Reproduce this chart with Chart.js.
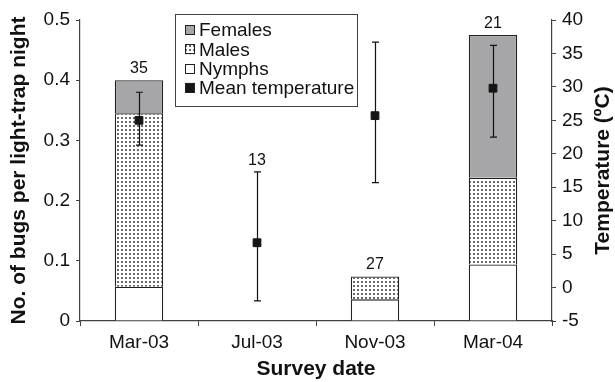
<!DOCTYPE html>
<html>
<head>
<meta charset="utf-8">
<script src="https://cdn.jsdelivr.net/npm/chart.js@4"></script>
<style>
  html, body { margin: 0; padding: 0; background: #fff; }
  #wrap { width: 615px; height: 382px; }
</style>
</head>
<body>
<div id="wrap"><canvas id="myChart" width="615" height="382"></canvas></div>
<script>
// survey data
const surveyDates = ['Mar-03', 'Jul-03', 'Nov-03', 'Mar-04'];
const nymphs  = [0.057, 0, 0.036, 0.094];
const males   = [0.288, 0, 0.038, 0.144];
const females = [0.055, 0, 0, 0.237];
const sampleSize = ['35', '13', '27', '21'];
const meanTemp = [25.0, 6.7, 25.7, 29.8];
const tempHigh = [29.2, 17.3, 36.7, 36.2];
const tempLow  = [21.3, -2.0, 15.7, 22.5];

const FONT = "'Liberation Sans', Arial, sans-serif";
const AXIS_COLOR = '#404040';
const FEMALE_GREY = '#a6a6a8';

// dotted fill for males
function dotPattern() {
  const c = document.createElement('canvas');
  c.width = 4; c.height = 4;
  const g = c.getContext('2d');
  g.fillStyle = '#fff';
  g.fillRect(0, 0, 4, 4);
  g.fillStyle = '#6a6a6a';
  g.fillRect(1, 1, 2, 2);
  return g.createPattern(c, 'repeat');
}

const ctx = document.getElementById('myChart').getContext('2d');
const maleFill = dotPattern();

const errorBars = {
  id: 'errorBars',
  beforeDatasetDraw(chart, args) {
    if (args.meta.type !== 'line') return;
    const x = chart.scales.x, y1 = chart.scales.y1;
    const c = chart.ctx;
    c.save();
    c.strokeStyle = '#111';
    c.lineWidth = 1.2;
    surveyDates.forEach((d, i) => {
      const px = Math.round(x.getPixelForValue(i)) + 0.5;
      const top = y1.getPixelForValue(tempHigh[i]);
      const bot = y1.getPixelForValue(tempLow[i]);
      c.beginPath();
      c.moveTo(px, top); c.lineTo(px, bot);
      c.moveTo(px - 3.5, top); c.lineTo(px + 3.5, top);
      c.moveTo(px - 3.5, bot); c.lineTo(px + 3.5, bot);
      c.stroke();
    });
    c.restore();
  }
};

const labelsAndLegend = {
  id: 'labelsAndLegend',
  afterDraw(chart) {
    const c = chart.ctx;
    const x = chart.scales.x, y = chart.scales.y, y1 = chart.scales.y1;
    c.save();
    // sample sizes above each column
    c.font = '16px ' + FONT;
    c.fillStyle = '#111';
    c.textAlign = 'center';
    c.textBaseline = 'alphabetic';
    surveyDates.forEach((d, i) => {
      const total = nymphs[i] + males[i] + females[i];
      const top = total > 0 ? y.getPixelForValue(total) : y1.getPixelForValue(tempHigh[i]);
      c.fillText(sampleSize[i], x.getPixelForValue(i), top - 7);
    });

    // right axis title, reading bottom to top
    c.save();
    c.translate(603, (y1.top + y1.bottom) / 2);
    c.rotate(-Math.PI / 2);
    c.font = 'bold 21px ' + FONT;
    c.textBaseline = 'middle';
    c.fillText('Temperature (ºC)', 0, 0);
    c.restore();

    // legend box
    const lx = 175.5, ly = 14.5, lw = 182, lh = 92;
    c.fillStyle = '#fff';
    c.fillRect(lx, ly, lw, lh);
    c.strokeStyle = AXIS_COLOR;
    c.lineWidth = 1;
    c.strokeRect(lx, ly, lw, lh);
    const items = [
      { text: 'Females', fill: FEMALE_GREY },
      { text: 'Males', fill: maleFill },
      { text: 'Nymphs', fill: '#fff' },
      { text: 'Mean temperature', fill: '#151515' }
    ];
    c.font = '19px ' + FONT;
    c.textAlign = 'left';
    c.textBaseline = 'middle';
    items.forEach((it, k) => {
      const cy = 30 + k * 19.3;
      c.fillStyle = it.fill;
      c.fillRect(185, cy - 5, 10, 10);
      c.strokeStyle = '#222';
      c.strokeRect(185.5, Math.round(cy - 5) + 0.5, 9, 9);
      c.fillStyle = '#111';
      c.fillText(it.text, 199, cy + 1);
    });
    c.restore();
  }
};

new Chart(ctx, {
  data: {
    labels: surveyDates,
    datasets: [
      {
        type: 'line',
        label: 'Mean temperature',
        data: meanTemp,
        yAxisID: 'y1',
        showLine: false,
        pointStyle: 'rect',
        pointRadius: 5.5,
        pointBackgroundColor: '#151515',
        pointBorderColor: '#151515',
        order: -1
      },
      {
        type: 'bar',
        label: 'Nymphs',
        data: nymphs,
        backgroundColor: '#fff',
        borderColor: '#222',
        borderWidth: 1.3,
        stack: 's',
        yAxisID: 'y',
        barPercentage: 0.41,
        categoryPercentage: 1
      },
      {
        type: 'bar',
        label: 'Males',
        data: males,
        backgroundColor: maleFill,
        borderColor: '#222',
        borderWidth: 1.3,
        stack: 's',
        yAxisID: 'y',
        barPercentage: 0.41,
        categoryPercentage: 1
      },
      {
        type: 'bar',
        label: 'Females',
        data: females,
        backgroundColor: FEMALE_GREY,
        borderColor: '#222',
        borderWidth: 1.3,
        stack: 's',
        yAxisID: 'y',
        barPercentage: 0.41,
        categoryPercentage: 1
      }
    ]
  },
  options: {
    responsive: false,
    animation: false,
    devicePixelRatio: 1,
    layout: { padding: { top: 20 } },
    plugins: {
      legend: { display: false },
      tooltip: { enabled: false }
    },
    scales: {
      x: {
        stacked: true,
        offset: true,
        grid: { offset: true, drawOnChartArea: false, tickLength: 5, color: AXIS_COLOR },
        border: { color: AXIS_COLOR, width: 1.2 },
        ticks: { color: '#111', font: { family: FONT, size: 19 }, padding: 5, maxRotation: 0 },
        title: { display: true, text: 'Survey date', color: '#111', font: { family: FONT, size: 21, weight: 'bold' }, padding: { bottom: 0 } },
        afterFit(s) { s.height = 61; }
      },
      y: {
        stacked: true,
        position: 'left',
        min: 0, max: 0.5,
        grid: { drawOnChartArea: false, tickLength: 4, color: AXIS_COLOR },
        border: { color: AXIS_COLOR, width: 1.2 },
        ticks: { stepSize: 0.1, color: '#111', font: { family: FONT, size: 19 }, padding: 6,
                 callback: v => Math.round(v * 10) / 10 },
        title: { display: true, text: 'No. of bugs per light-trap night', color: '#111', font: { family: FONT, size: 21, weight: 'bold' }, padding: { top: 7 } },
        afterFit(s) { s.width = 80; }
      },
      y1: {
        position: 'right',
        min: -5, max: 40,
        grid: { drawOnChartArea: false, tickLength: 4, color: AXIS_COLOR },
        border: { color: AXIS_COLOR, width: 1.2 },
        ticks: { stepSize: 5, color: '#111', font: { family: FONT, size: 19 }, padding: 6 },
        title: { display: false },
        afterFit(s) { s.width = 63; }
      }
    }
  },
  plugins: [errorBars, labelsAndLegend]
});
</script>
</body>
</html>
